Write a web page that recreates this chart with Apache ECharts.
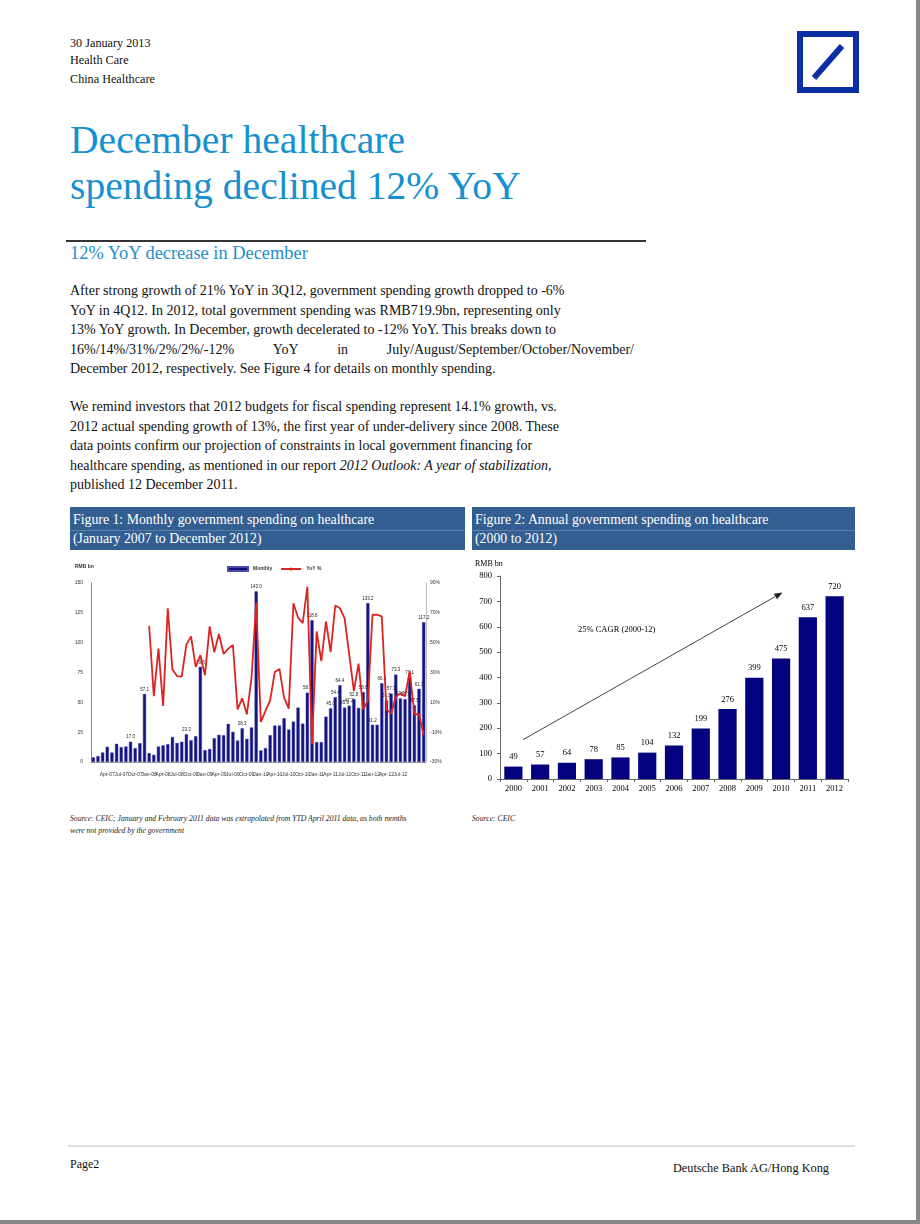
<!DOCTYPE html>
<html><head><meta charset="utf-8">
<script src="https://cdn.jsdelivr.net/npm/echarts@6/dist/echarts.min.js"></script>
<style>
html,body{margin:0;padding:0;background:#fff;}
body{width:920px;height:1224px;position:relative;overflow:hidden;font-family:"Liberation Serif","DejaVu Serif",serif;color:#111;}
.abs{position:absolute;white-space:nowrap;}
.hdr{font-size:12.2px;left:70px;}
.title{left:70px;font-size:39.6px;color:#1590d0;line-height:1;}
.body{left:70px;font-size:14px;line-height:1;}
.figbox{position:absolute;background:#335e92;color:#fff;font-size:13.8px;}
.figbox div{position:absolute;left:3px;white-space:nowrap;}
.src{font-size:7.7px;font-style:italic;color:#222;}
</style></head>
<body>
<div style="position:absolute;right:0;top:0;width:4px;height:1224px;background:#888;"></div>
<div style="position:absolute;left:0;bottom:0;width:920px;height:4px;background:#888;"></div>

<div class="abs hdr" style="top:36px;">30 January 2013</div>
<div class="abs hdr" style="top:53px;">Health Care</div>
<div class="abs hdr" style="top:72px;">China Healthcare</div>

<svg style="position:absolute;left:797px;top:31px;" width="62" height="62" viewBox="0 0 62 62">
<rect x="3" y="3" width="56" height="56" fill="none" stroke="#0a2ea6" stroke-width="6"/>
<line x1="17" y1="47" x2="45" y2="15" stroke="#0a2ea6" stroke-width="6"/>
</svg>

<div class="abs title" style="top:121px;">December healthcare</div>
<div class="abs title" style="top:167px;">spending declined 12% YoY</div>
<div style="position:absolute;left:66px;top:240px;width:580px;height:2px;background:#333;"></div>
<div class="abs" style="left:70px;top:243px;font-size:18.4px;color:#1e8fcc;">12% YoY decrease in December</div>

<div class="abs body" style="top:284px;">After strong growth of 21% YoY in 3Q12, government spending growth dropped to -6%</div>
<div class="abs body" style="top:304px;">YoY in 4Q12. In 2012, total government spending was RMB719.9bn, representing only</div>
<div class="abs body" style="top:323px;">13% YoY growth. In December, growth decelerated to -12% YoY. This breaks down to</div>
<div class="abs body" style="top:343px;width:564px;display:flex;justify-content:space-between;"><span>16%/14%/31%/2%/2%/-12%</span><span>YoY</span><span>in</span><span>July/August/September/October/November/</span></div>
<div class="abs body" style="top:362px;">December 2012, respectively. See Figure 4 for details on monthly spending.</div>

<div class="abs body" style="top:400px;">We remind investors that 2012 budgets for fiscal spending represent 14.1% growth, vs.</div>
<div class="abs body" style="top:420px;">2012 actual spending growth of 13%, the first year of under-delivery since 2008. These</div>
<div class="abs body" style="top:439px;">data points confirm our projection of constraints in local government financing for</div>
<div class="abs body" style="top:459px;">healthcare spending, as mentioned in our report <i>2012 Outlook: A year of stabilization,</i></div>
<div class="abs body" style="top:478px;">published 12 December 2011.</div>

<div class="figbox" style="left:70px;top:507px;width:395px;height:43px;">
<div style="top:5px;">Figure 1: Monthly government spending on healthcare</div>
<div style="top:23px;left:0;width:395px;height:1px;background:#5a7fae;"></div>
<div style="top:24px;">(January 2007 to December 2012)</div>
</div>
<div class="figbox" style="left:472px;top:507px;width:383px;height:43px;">
<div style="top:5px;">Figure 2: Annual government spending on healthcare</div>
<div style="top:23px;left:0;width:383px;height:1px;background:#5a7fae;"></div>
<div style="top:24px;">(2000 to 2012)</div>
</div>

<div id="c1" style="position:absolute;left:70px;top:555px;width:395px;height:235px;"></div>
<div id="c2" style="position:absolute;left:470px;top:555px;width:390px;height:245px;"></div>

<div class="abs src" style="left:70px;top:814px;">Source: CEIC; January and February 2011 data was extrapolated from YTD April 2011 data, as both months</div>
<div class="abs src" style="left:70px;top:826px;">were not provided by the government</div>
<div class="abs src" style="left:472px;top:814px;">Source: CEIC</div>

<div style="position:absolute;left:68px;top:1145px;width:787px;height:2px;background:#ddd;"></div>
<div class="abs" style="left:70px;top:1157px;font-size:12px;">Page2</div>
<div class="abs" style="right:91px;top:1161px;font-size:12.3px;">Deutsche Bank AG/Hong Kong</div>

<script>
// ---------- Figure 1 data ----------
const monthNames = ['Jan','Feb','Mar','Apr','May','Jun','Jul','Aug','Sep','Oct','Nov','Dec'];
const yearsShort = ['07','08','09','10','11','12'];
const monthly2007 = [3.9, 5.0, 8.0, 12.8, 8.0, 15.3, 12.5, 13.0, 17.0, 11.7, 15.8, 57.1];
const monthly2008 = [7.5, 6.0, 13.0, 14.0, 15.0, 21.0, 16.0, 17.0, 23.3, 18.3, 21.7, 79.8];
const monthly2009 = [10.0, 11.0, 20.0, 22.8, 22.5, 32.0, 25.3, 18.0, 28.3, 19.4, 29.0, 143.0];
const monthly2010 = [9.7, 11.7, 22.5, 30.6, 30.6, 36.7, 27.2, 33.9, 45.6, 32.2, 58.1, 118.8];
const monthly2011 = [16.7, 16.7, 38.0, 45.0, 54.4, 64.4, 45.6, 47.2, 52.8, 45.3, 58.6, 133.2];
const monthly2012 = [31.2, 31.2, 66.0, 51.5, 57.3, 73.3, 53.3, 52.7, 71.1, 47.5, 61.3, 117.2];
const yoy2007 = [null,null,null,null,null,null,null,null,null,null,null,null];
const yoy2008 = [61.3, 14.2, 46.0, 7.6, 73.1, 32.0, 27.6, 27.3, 48.7, 54.2, 33.8, 41.6];
const yoy2009 = [28.2, 60.9, 43.6, 55.8, 42.4, 46.0, 48.4, 5.3, 12.7, 2.0, 26.4, 76.9];
const yoy2010 = [-3.1, 4.2, 11.3, 30.4, 32.4, 13.1, 5.8, 76.4, 66.9, 63.1, 87.6, -18.0];
const yoy2011 = [57.6, 37.6, 64.2, 43.6, 74.9, 73.1, 66.4, 42.0, 17.6, 36.0, 5.3, 10.9];
const yoy2012 = [68.7, 68.7, 67.6, 5.3, 2.4, 13.8, 16.0, 14.0, 31.0, 2.0, 2.0, -12.0];
const labelledMonths = [8, 11, 20, 23, 32, 35, 46, 47, 51, 52, 53, 54, 55, 56, 58, 59, 60, 62, 63, 64, 65, 66, 67, 68, 69, 70, 71];
const leftTicks = {min: 0, max: 150, interval: 25};
const rightTicks = {min: -30, max: 90, interval: 20};

// ---------- Figure 2 data ----------
const annualYears = ['2000','2001','2002','2003','2004','2005','2006','2007','2008','2009','2010','2011','2012'];
const annualValues = [49, 57, 64, 78, 85, 104, 132, 199, 276, 399, 475, 637, 720];
const arrowFrom = [0.36, 155];
const arrowTo = [10.05, 735];
const cagrLabel = '25% CAGR (2000-12)';

const months = [];
yearsShort.forEach(y => monthNames.forEach(m => months.push(m + '-' + y)));
const monthly = [].concat(monthly2007, monthly2008, monthly2009, monthly2010, monthly2011, monthly2012);
const yoy = [].concat(yoy2007, yoy2008, yoy2009, yoy2010, yoy2011, yoy2012);

const tiny = {fontFamily: 'Arial, "Liberation Sans", sans-serif', fontSize: 5, color: '#333'};

const c1 = echarts.init(document.getElementById('c1'), null, {renderer: 'canvas'});
c1.setOption({
  animation: false,
  grid: {left: 21, right: 39, top: 28, bottom: 28},
  legend: {
    top: 6, left: 152, itemGap: 8, itemWidth: 20, itemHeight: 4,
    textStyle: Object.assign({}, tiny, {fontWeight: 'bold'}),
    data: [{name: 'Monthly', icon: 'rect'}, {name: 'YoY %'}]
  },
  graphic: [{type: 'text', left: 5, top: 9, style: {text: 'RMB bn', font: 'bold 5px Arial', fill: '#333'}}],
  xAxis: {
    type: 'category', data: months,
    axisLine: {show: true, lineStyle: {color: '#999', width: 1}},
    axisTick: {show: false},
    axisLabel: Object.assign({}, tiny, {interval: 2, margin: 10, fontSize: 5})
  },
  yAxis: [
    Object.assign({type: 'value', position: 'left', splitLine: {show: false},
      axisLine: {show: true, lineStyle: {color: '#888'}}, axisTick: {show: false},
      axisLabel: Object.assign({}, tiny, {margin: 8})}, leftTicks),
    Object.assign({type: 'value', position: 'right', splitLine: {show: false},
      axisLine: {show: true, lineStyle: {color: '#bbb'}}, axisTick: {show: false},
      axisLabel: Object.assign({}, tiny, {margin: 4, formatter: '{value}%'})}, rightTicks)
  ],
  series: [
    {
      name: 'Monthly', type: 'bar', data: monthly, barCategoryGap: '30%',
      itemStyle: {color: '#12127f', borderColor: '#4a4aa8', borderWidth: 0.5},
      label: {
        show: true, position: 'top', distance: 2, fontSize: 4.5, color: '#222', fontFamily: 'Arial',
        formatter: p => labelledMonths.indexOf(p.dataIndex) >= 0 ? p.value.toFixed(1) : ''
      }
    },
    {
      name: 'YoY %', type: 'line', yAxisIndex: 1, data: yoy, symbol: 'none',
      lineStyle: {color: '#dd2222', width: 1.8}, itemStyle: {color: '#dd2222'}
    }
  ]
});

const c2 = echarts.init(document.getElementById('c2'), null, {renderer: 'canvas'});
const serif = '"Liberation Serif", "Times New Roman", serif';
c2.setOption({
  animation: false,
  grid: {left: 30, right: 12, top: 21, bottom: 21},
  xAxis: {
    type: 'category', data: annualYears,
    axisLine: {lineStyle: {color: '#666'}},
    axisTick: {show: true, length: 3, lineStyle: {color: '#666'}},
    axisLabel: {fontFamily: serif, fontSize: 8.5, color: '#000', margin: 5}
  },
  yAxis: {
    type: 'value', min: 0, max: 800, interval: 100, splitLine: {show: false},
    axisLine: {show: true, lineStyle: {color: '#666'}},
    axisTick: {show: true, length: 3, lineStyle: {color: '#666'}},
    axisLabel: {fontFamily: serif, fontSize: 8.5, color: '#000', margin: 8}
  },
  series: [{
    type: 'bar', data: annualValues, barCategoryGap: '32%',
    itemStyle: {color: '#03037f'},
    label: {show: true, position: 'top', distance: 5, fontFamily: serif, fontSize: 8.5, color: '#000'}
  }]
});
function placeC2Graphics() {
  const p0 = c2.convertToPixel({seriesIndex: 0}, [0, 0]);
  const p1 = c2.convertToPixel({seriesIndex: 0}, [1, 0]);
  const step = p1[0] - p0[0];
  const toPx = d => [p0[0] + d[0] * step, c2.convertToPixel({seriesIndex: 0}, [0, d[1]])[1]];
  const a = toPx(arrowFrom), b = toPx(arrowTo);
  const ang = Math.atan2(b[1] - a[1], b[0] - a[0]);
  const L = 8, W = 3.2;
  const tip = b;
  const base = [b[0] - L * Math.cos(ang), b[1] - L * Math.sin(ang)];
  const left = [base[0] + W * Math.sin(ang), base[1] - W * Math.cos(ang)];
  const right = [base[0] - W * Math.sin(ang), base[1] + W * Math.cos(ang)];
  const lab = toPx([3.86, 587]);
  c2.setOption({graphic: [
    {type: 'text', left: 5, top: 5, style: {text: 'RMB bn', font: '8px "Liberation Serif"', fill: '#000'}},
    {type: 'line', shape: {x1: a[0], y1: a[1], x2: base[0], y2: base[1]}, style: {stroke: '#444', lineWidth: 1}},
    {type: 'polygon', shape: {points: [tip, left, right]}, style: {fill: '#222'}},
    {type: 'text', x: lab[0], y: lab[1], style: {text: cagrLabel, font: '8.5px "Liberation Serif"', fill: '#000', align: 'center', verticalAlign: 'middle'}}
  ]});
}
placeC2Graphics();
</script>
</body></html>
